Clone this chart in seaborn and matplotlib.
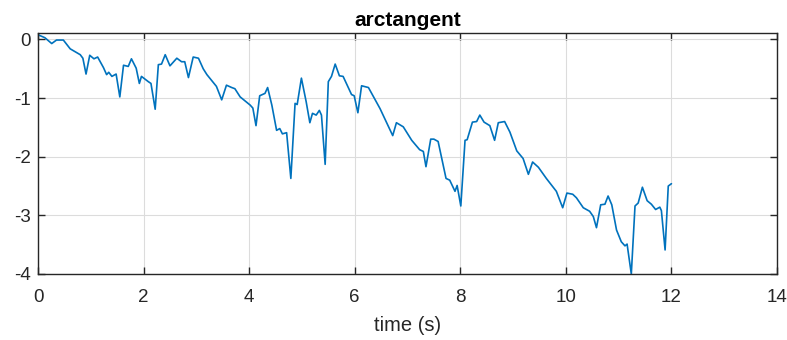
import matplotlib
matplotlib.use("Agg")
import matplotlib.pyplot as plt
import seaborn as sns
import pandas as pd

# arctangent of the measured signal over time
time_s = [0.00, 0.13, 0.26, 0.35, 0.48, 0.61, 0.80, 0.85, 0.91, 0.98, 1.06, 1.13, 1.24,
          1.30, 1.34, 1.40, 1.48, 1.55, 1.62, 1.71, 1.77, 1.86, 1.92, 1.96, 2.09, 2.14,
          2.22, 2.28, 2.34, 2.41, 2.50, 2.63, 2.72, 2.78, 2.85, 2.94, 3.04, 3.13, 3.20,
          3.38, 3.48, 3.57, 3.67, 3.73, 3.83, 4.02, 4.07, 4.13, 4.20, 4.30, 4.35, 4.43,
          4.52, 4.58, 4.63, 4.71, 4.79, 4.87, 4.91, 4.99, 5.08, 5.15, 5.20, 5.27, 5.33,
          5.37, 5.44, 5.50, 5.56, 5.63, 5.71, 5.78, 5.94, 5.99, 6.06, 6.13, 6.26, 6.48,
          6.60, 6.72, 6.79, 6.92, 7.08, 7.23, 7.30, 7.35, 7.44, 7.50, 7.58, 7.73, 7.80,
          7.90, 7.94, 8.01, 8.09, 8.13, 8.23, 8.31, 8.37, 8.45, 8.56, 8.65, 8.72, 8.84,
          8.94, 9.07, 9.19, 9.29, 9.37, 9.48, 9.63, 9.82, 9.94, 10.02, 10.13, 10.20,
          10.33, 10.45, 10.52, 10.58, 10.66, 10.74, 10.80, 10.87, 10.96, 11.05, 11.12,
          11.16, 11.24, 11.31, 11.37, 11.45, 11.54, 11.62, 11.70, 11.78, 11.81, 11.88,
          11.94, 12.00]
arctan_val = [0.08, 0.03, -0.07, -0.01, -0.01, -0.16, -0.26, -0.32, -0.59, -0.27, -0.33,
              -0.30, -0.48, -0.60, -0.56, -0.63, -0.59, -0.98, -0.44, -0.46, -0.33, -0.49,
              -0.75, -0.63, -0.72, -0.75, -1.19, -0.43, -0.42, -0.26, -0.45, -0.32, -0.38,
              -0.38, -0.65, -0.30, -0.32, -0.50, -0.60, -0.80, -1.03, -0.78, -0.82, -0.84,
              -0.98, -1.12, -1.17, -1.47, -0.96, -0.92, -0.82, -1.12, -1.55, -1.52, -1.61,
              -1.59, -2.37, -1.09, -1.11, -0.66, -1.06, -1.42, -1.26, -1.29, -1.21, -1.29,
              -2.13, -0.72, -0.63, -0.42, -0.62, -0.63, -0.94, -0.96, -1.25, -0.79, -0.82,
              -1.18, -1.41, -1.64, -1.42, -1.49, -1.72, -1.88, -1.91, -2.17, -1.70, -1.70,
              -1.74, -2.37, -2.40, -2.59, -2.49, -2.84, -1.72, -1.71, -1.41, -1.40, -1.29,
              -1.41, -1.47, -1.72, -1.42, -1.40, -1.58, -1.90, -2.03, -2.30, -2.09, -2.18,
              -2.37, -2.59, -2.87, -2.62, -2.64, -2.70, -2.87, -2.93, -3.02, -3.21, -2.82,
              -2.81, -2.67, -2.82, -3.25, -3.45, -3.52, -3.49, -4.00, -2.84, -2.79, -2.52,
              -2.75, -2.81, -2.90, -2.86, -2.92, -3.59, -2.50, -2.46]

x_ticks = [0, 2, 4, 6, 8, 10, 12, 14]
y_ticks = [0, -1, -2, -3, -4]

df = pd.DataFrame({"time": time_s, "value": arctan_val})

sns.set_theme(style="whitegrid")
plt.rcParams["font.family"] = ["Liberation Sans", "DejaVu Sans"]

fig = plt.figure(figsize=(7.87, 3.40), dpi=100)
ax = fig.add_axes([38 / 787, 1 - 274 / 340, (777 - 38) / 787, (274 - 33) / 340])

sns.lineplot(data=df, x="time", y="value", ax=ax, color="#0072BD", linewidth=1.2,
             estimator=None, sort=False)

ax.set_xlim(0, 14)
ax.set_ylim(-4, 0.11)
ax.set_xticks(x_ticks)
ax.set_yticks(y_ticks)
ax.set_xticklabels([str(v) for v in x_ticks])
ax.set_yticklabels([str(v) for v in y_ticks])
ax.grid(True, color="#dcdcdc", linewidth=0.8)
for side in ax.spines.values():
    side.set_visible(True)
    side.set_color("#262626")
    side.set_linewidth(1.0)
ax.tick_params(axis="both", which="major", direction="in", length=5, width=1.0,
               color="#262626", labelsize=13.5, labelcolor="#262626",
               top=True, right=True, bottom=True, left=True)
ax.tick_params(axis="x", pad=11)
ax.tick_params(axis="y", pad=5)
ax.set_facecolor("white")
ax.set_xlabel("time (s)", fontsize=14.5, color="#262626", labelpad=7)
ax.set_ylabel("")
ax.set_title("arctangent", fontsize=15, fontweight="bold", color="black", pad=5)

fig.savefig("out.png", dpi=100, facecolor="white")
